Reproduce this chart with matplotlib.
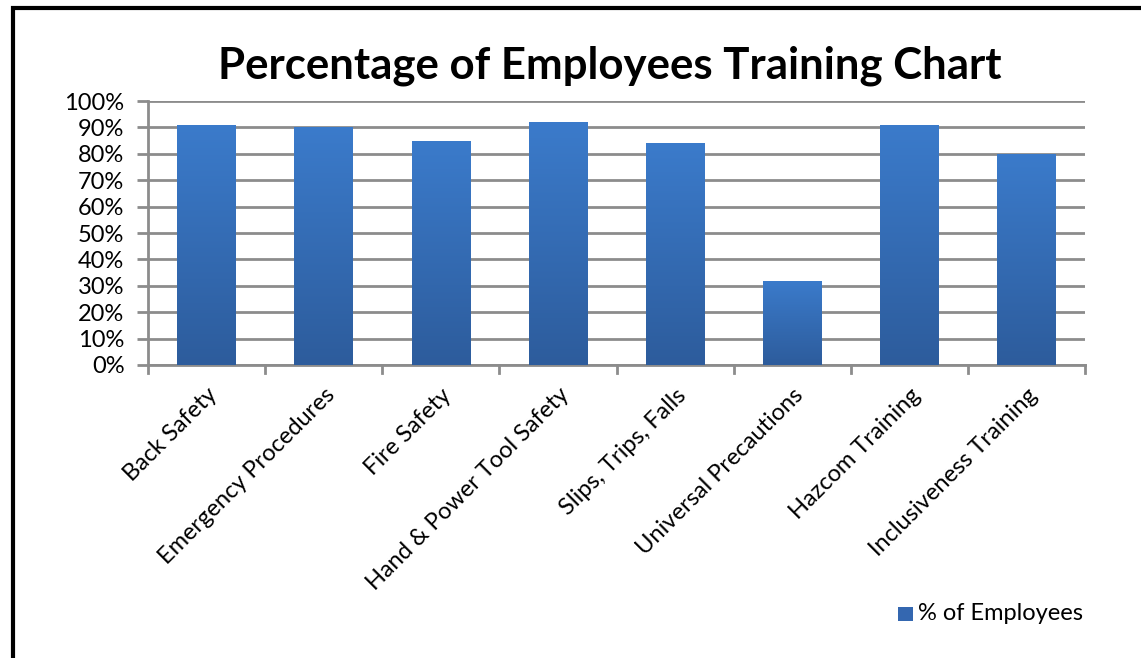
import numpy as np
import matplotlib

matplotlib.use("Agg")
import matplotlib.pyplot as plt
from matplotlib.patches import Rectangle
from matplotlib.colors import LinearSegmentedColormap

categories = ["Back Safety", "Emergency Procedures", "Fire Safety",
              "Hand & Power Tool Safety", "Slips, Trips, Falls",
              "Universal Precautions", "Hazcom Training", "Inclusiveness Training"]
pct_employees = [91, 90, 85, 92, 84, 32, 91, 80]
yticks = list(range(0, 101, 10))
series_name = "% of Employees"

plt.rcParams["font.family"] = ["Lato", "DejaVu Sans"]

W, H = 1141, 658
fig = plt.figure(figsize=(W / 100, H / 100), dpi=100, facecolor="white")
ax = fig.add_axes([148 / W, 1 - 365 / H, (1085 - 148) / W, (365 - 101) / H])

x = np.arange(len(categories))
bars = ax.bar(x, pct_employees, width=0.5, color="#3A78C8", zorder=3)

# vertical gradient on each bar (lighter top, darker bottom)
grad = LinearSegmentedColormap.from_list("g", ["#2D5C9C", "#3B7BCB"])
gimg = np.linspace(0, 1, 256).reshape(-1, 1)
for b in bars:
    x0, w, h = b.get_x(), b.get_width(), b.get_height()
    im = ax.imshow(gimg, cmap=grad, origin="lower", aspect="auto",
                   extent=[x0, x0 + w, 0, h], zorder=3.5)
    im.set_clip_path(b)

ax.set_xlim(-0.5, len(categories) - 0.5)
ax.set_ylim(0, 100)
ax.set_yticks(yticks)
ax.set_yticklabels([f"{v}%" for v in yticks], fontsize=17)
ax.yaxis.grid(True, color="#8c8c8c", lw=2, zorder=1)
ax.set_axisbelow(True)

ax.set_xticks(x)
ax.set_xticklabels(categories, rotation=45, ha="right", rotation_mode="anchor", fontsize=17)
ax.tick_params(axis="x", length=0, pad=14)
for b in np.arange(-0.5, len(categories), 1.0):
    ax.plot([b, b], [0, -3], color="#8c8c8c", lw=2, clip_on=False, zorder=2)
ax.tick_params(axis="y", length=8, width=2, color="#8c8c8c", pad=9)

for s in ["top", "right"]:
    ax.spines[s].set_visible(False)
for s in ["left", "bottom"]:
    ax.spines[s].set_color("#8c8c8c")
    ax.spines[s].set_linewidth(2)

fig.text(610 / W, 1 - 66 / H, "Percentage of Employees Training Chart",
         ha="center", va="center", fontsize=31.5, fontweight="bold")

# legend
fig.patches.append(Rectangle((898 / W, 1 - 621 / H), 15 / W, 14 / H,
                             transform=fig.transFigure, facecolor="#3467B0",
                             edgecolor="none"))
fig.text(918 / W, 1 - 613 / H, series_name, ha="left", va="center", fontsize=17)

# outer black frame (cut off at right and bottom)
fig.patches.append(Rectangle((12.5 / W, -0.1), 1.2, 1 - 8 / H + 0.1,
                             transform=fig.transFigure, facecolor="none",
                             edgecolor="black", lw=3))

fig.savefig("out.png", dpi=100, facecolor="white")
